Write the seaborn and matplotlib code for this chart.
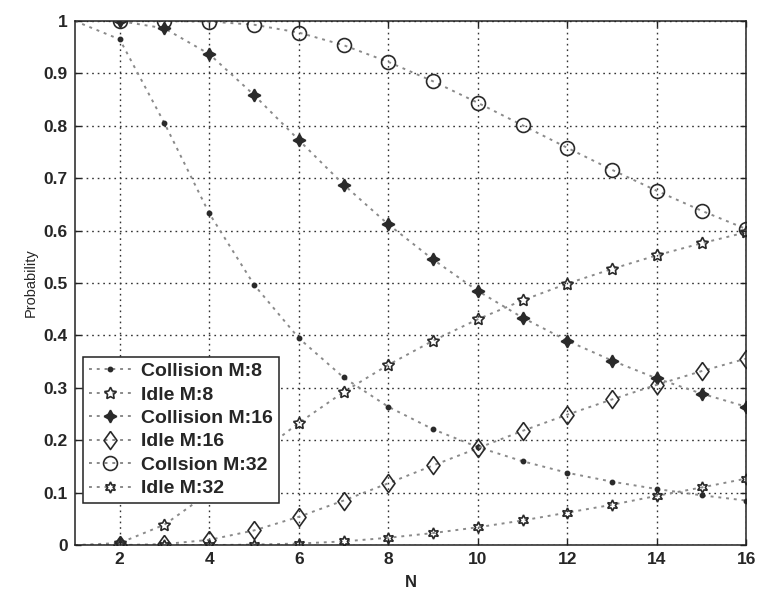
import numpy as np
import pandas as pd
import matplotlib
matplotlib.use("Agg")
import matplotlib.pyplot as plt
import seaborn as sns

N = [1, 2, 3, 4, 5, 6, 7, 8, 9, 10, 11, 12, 13, 14, 15, 16]

collision_m8 = [1.0, 0.965, 0.805, 0.633, 0.497, 0.395, 0.320, 0.264, 0.221, 0.187, 0.160, 0.138, 0.121, 0.107, 0.095, 0.085]
idle_m8 = [0.0, 0.004, 0.039, 0.100, 0.168, 0.233, 0.292, 0.344, 0.390, 0.431, 0.467, 0.499, 0.527, 0.553, 0.576, 0.597]
collision_m16 = [1.0, 1.0, 0.986, 0.937, 0.859, 0.773, 0.688, 0.612, 0.545, 0.485, 0.434, 0.390, 0.352, 0.318, 0.289, 0.264]
idle_m16 = [0.0, 0.0, 0.002, 0.010, 0.028, 0.054, 0.085, 0.118, 0.152, 0.185, 0.218, 0.249, 0.278, 0.306, 0.332, 0.356]
collision_m32 = [1.0, 1.0, 1.0, 0.999, 0.993, 0.978, 0.954, 0.922, 0.885, 0.844, 0.801, 0.758, 0.716, 0.676, 0.638, 0.603]
idle_m32 = [0.0, 0.0, 0.0, 0.0, 0.001, 0.003, 0.007, 0.014, 0.023, 0.034, 0.047, 0.062, 0.077, 0.094, 0.110, 0.127]

series_labels = ["Collision M:8", "Idle M:8", "Collision M:16", "Idle M:16", "Collsion M:32", "Idle M:32"]
series_values = [collision_m8, idle_m8, collision_m16, idle_m16, collision_m32, idle_m32]

x_ticks = [2, 4, 6, 8, 10, 12, 14, 16]
y_ticks = [0, 0.1, 0.2, 0.3, 0.4, 0.5, 0.6, 0.7, 0.8, 0.9, 1]
y_tick_labels = ["0", "0.1", "0.2", "0.3", "0.4", "0.5", "0.6", "0.7", "0.8", "0.9", "1"]

sns.set_theme(style="white")
plt.rcParams["font.family"] = ["Liberation Sans", "DejaVu Sans"]

diamond = [(0, 1), (0.72, 0), (0, -1), (-0.72, 0), (0, 1)]
markers = [".", (5, 1, 0), (4, 1, 0), diamond, "o", (6, 1, 0)]
msizes = [6, 9, 9, 13, 10, 8]
fills = ["full", "none", "full", "none", "none", "none"]

fig = plt.figure(figsize=(7.57, 6.01), dpi=100)
ax = fig.add_axes([0.099, 0.093, 0.887, 0.872])

for lab, vals, mk, ms, fs in zip(series_labels, series_values, markers, msizes, fills):
    df = pd.DataFrame({"N": N, "P": vals})
    face = "none" if fs == "none" else "#2a2a2a"
    sns.lineplot(data=df, x="N", y="P", ax=ax, label=lab,
                 color="#8a8a8a", linestyle=(0, (1.5, 2.5)), linewidth=1.4,
                 marker=mk, markersize=ms,
                 markeredgecolor="#2a2a2a", markerfacecolor=face,
                 markeredgewidth=1.2, markevery=slice(1, None))

ax.set_xlim(1, 16)
ax.set_ylim(0, 1)
ax.set_xticks(x_ticks)
ax.set_xticklabels([str(t) for t in x_ticks], fontsize=12.5, fontweight="bold")
ax.set_yticks(y_ticks)
ax.set_yticklabels(y_tick_labels, fontsize=12.5, fontweight="bold")
ax.tick_params(direction="in", length=4, width=1, color="#222222",
               top=True, right=True, bottom=True, left=True, pad=5)
ax.grid(True, color="#333333", linestyle=(0, (1.2, 2.8)), linewidth=1.0)
for s in ax.spines.values():
    s.set_color("#222222")
    s.set_linewidth(1.1)

ax.set_xlabel("N", fontsize=12, fontweight="bold", labelpad=6)
ax.set_ylabel("Probability", fontsize=10.5, labelpad=4)

leg = ax.legend(loc="lower left", bbox_to_anchor=(0.012, 0.08), borderaxespad=0,
                prop={"weight": "bold", "size": 14},
                frameon=True, fancybox=False, edgecolor="#222222",
                framealpha=1, labelspacing=0.3, handlelength=2.2,
                handletextpad=0.5, borderpad=0.3)
leg.get_frame().set_linewidth(1.1)

fig.savefig("out.png", dpi=100)
